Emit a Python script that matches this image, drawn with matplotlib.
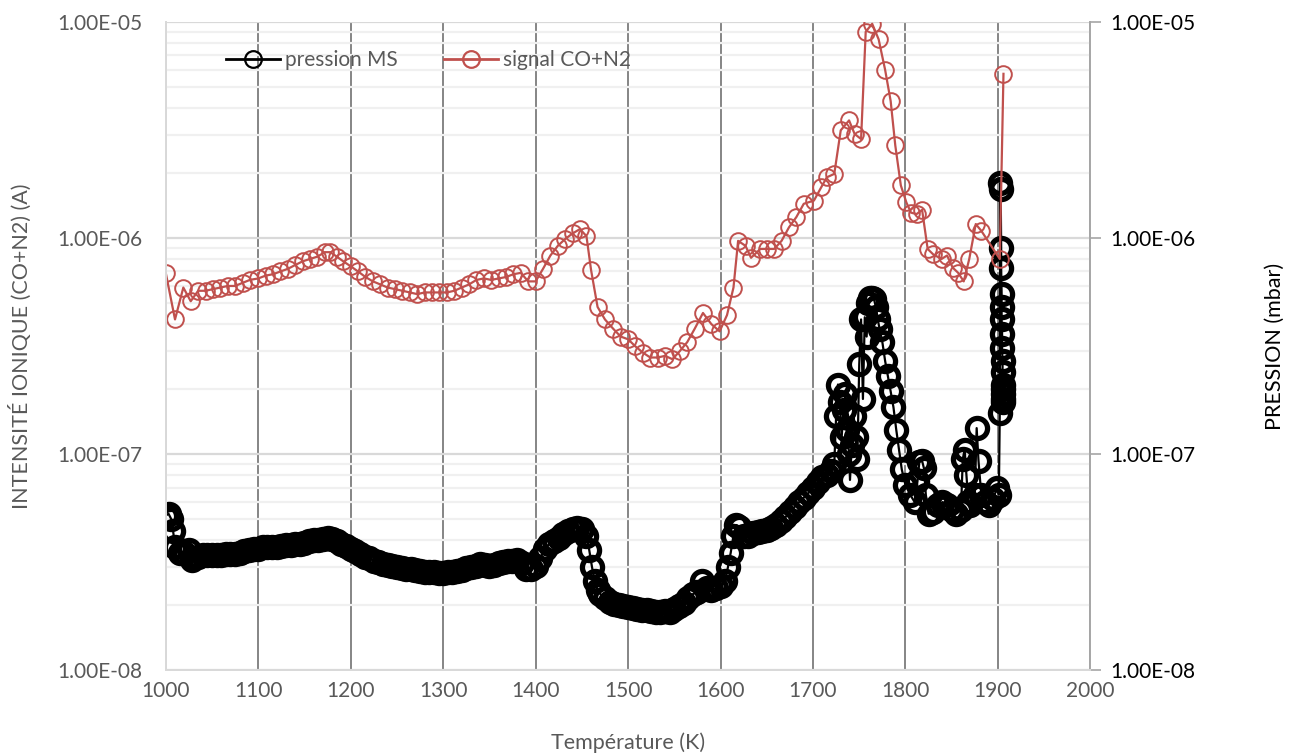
import matplotlib
matplotlib.use("Agg")
import matplotlib.pyplot as plt
from matplotlib.ticker import LogLocator, NullFormatter, FixedLocator

plt.rcParams['font.family'] = ['Lato', 'DejaVu Sans']

# signal CO+N2 (A), red series
temp_signal = [
    1000, 1010, 1019, 1027, 1035, 1043, 1051, 1059, 1067, 1075, 1083, 1091,
    1100, 1108, 1116, 1124, 1132, 1140, 1148, 1156, 1164, 1172, 1178, 1185,
    1192, 1200, 1208, 1216, 1224, 1232, 1240, 1248, 1256, 1264, 1272, 1280,
    1288, 1296, 1304, 1312, 1320, 1328, 1336, 1344, 1352, 1360, 1368, 1376,
    1384, 1392, 1400, 1408, 1416, 1424, 1432, 1440, 1448, 1455, 1460, 1467,
    1475, 1484, 1492, 1500, 1508, 1516, 1524, 1532, 1540, 1548, 1556, 1564,
    1572, 1581, 1590, 1599, 1607, 1614, 1619, 1627, 1633, 1643, 1650, 1658,
    1666, 1674, 1682, 1690, 1701, 1709, 1715, 1723, 1730, 1739, 1745, 1752,
    1757, 1764, 1771, 1778, 1784, 1789, 1795, 1801, 1806, 1812, 1818, 1824,
    1830, 1839, 1845, 1851, 1857, 1863, 1869, 1876, 1882, 1902, 1906,
]
signal = [
    6.9e-7, 4.2e-7, 5.9e-7, 5.1e-7, 5.7e-7, 5.7e-7, 5.8e-7, 5.9e-7, 6.0e-7, 6.0e-7, 6.2e-7, 6.4e-7,
    6.5e-7, 6.7e-7, 6.8e-7, 7.0e-7, 7.2e-7, 7.5e-7, 7.8e-7, 8.0e-7, 8.2e-7, 8.6e-7, 8.6e-7, 8.2e-7,
    7.8e-7, 7.4e-7, 7.0e-7, 6.6e-7, 6.3e-7, 6.1e-7, 5.9e-7, 5.8e-7, 5.7e-7, 5.6e-7, 5.5e-7, 5.6e-7,
    5.6e-7, 5.6e-7, 5.6e-7, 5.7e-7, 5.9e-7, 6.1e-7, 6.4e-7, 6.5e-7, 6.4e-7, 6.5e-7, 6.6e-7, 6.8e-7,
    6.9e-7, 6.3e-7, 6.3e-7, 7.2e-7, 8.3e-7, 9.2e-7, 9.9e-7, 1.05e-6, 1.1e-6, 1.02e-6, 7.1e-7, 4.8e-7,
    4.2e-7, 3.8e-7, 3.5e-7, 3.4e-7, 3.15e-7, 2.95e-7, 2.8e-7, 2.8e-7, 2.85e-7, 2.75e-7, 3.0e-7, 3.3e-7,
    3.8e-7, 4.5e-7, 4.0e-7, 3.7e-7, 4.4e-7, 5.9e-7, 9.7e-7, 9.2e-7, 8.1e-7, 8.9e-7, 8.9e-7, 8.9e-7,
    9.7e-7, 1.12e-6, 1.25e-6, 1.44e-6, 1.49e-6, 1.72e-6, 1.91e-6, 1.98e-6, 3.15e-6, 3.5e-6, 3.03e-6, 2.87e-6,
    9.0e-6, 9.8e-6, 8.3e-6, 6.0e-6, 4.3e-6, 2.68e-6, 1.75e-6, 1.46e-6, 1.31e-6, 1.29e-6, 1.35e-6, 8.9e-7,
    8.4e-7, 8.0e-7, 8.3e-7, 7.3e-7, 6.9e-7, 6.3e-7, 8.0e-7, 1.16e-6, 1.08e-6, 8.0e-7, 5.75e-6,
]

# pression MS (mbar), black series
temp_pression = [
    1000, 1003, 1006, 1008, 1010, 1015, 1020, 1025, 1028, 1030, 1035, 1040,
    1045, 1050, 1055, 1060, 1065, 1070, 1075, 1080, 1085, 1090, 1095, 1100,
    1105, 1110, 1115, 1120, 1125, 1130, 1135, 1140, 1145, 1150, 1155, 1160,
    1165, 1170, 1175, 1180, 1185, 1190, 1195, 1200, 1205, 1210, 1215, 1220,
    1225, 1230, 1235, 1240, 1245, 1250, 1255, 1260, 1265, 1270, 1275, 1280,
    1285, 1290, 1295, 1300, 1305, 1310, 1315, 1320, 1325, 1330, 1335, 1340,
    1345, 1350, 1355, 1360, 1365, 1370, 1375, 1380, 1385, 1390, 1395, 1400,
    1405, 1410, 1415, 1420, 1425, 1430, 1435, 1440, 1445, 1450, 1455, 1458,
    1461, 1464, 1467, 1470, 1475, 1480, 1485, 1490, 1495, 1500, 1505, 1510,
    1515, 1520, 1525, 1530, 1535, 1540, 1545, 1550, 1555, 1560, 1565, 1570,
    1575, 1580, 1585, 1590, 1595, 1600, 1605, 1608, 1611, 1614, 1617, 1620,
    1625, 1630, 1635, 1640, 1645, 1650, 1655, 1660, 1665, 1670, 1675, 1680,
    1685, 1690, 1695, 1700, 1705, 1710, 1715, 1720, 1723, 1725, 1727, 1729,
    1731, 1733, 1735, 1737, 1739, 1740, 1742, 1744, 1746, 1748, 1750, 1752,
    1754, 1756, 1758, 1760, 1762, 1764, 1766, 1768, 1770, 1772, 1775, 1778,
    1781, 1784, 1787, 1790, 1793, 1796, 1800, 1805, 1810, 1813, 1815, 1818,
    1820, 1822, 1825, 1830, 1835, 1840, 1845, 1850, 1855, 1860, 1862, 1864,
    1866, 1868, 1870, 1875, 1877, 1879, 1882, 1886, 1890, 1895, 1899, 1901,
    1902, 1902.5, 1903, 1903.5, 1903.5, 1904, 1904, 1904, 1904.5, 1904.5, 1905, 1905,
    1905, 1905.5, 1905.5, 1906, 1906,
]
pression = [
    5.2e-8, 5.3e-8, 5.0e-8, 4.4e-8, 3.7e-8, 3.5e-8, 3.5e-8, 3.6e-8, 3.25e-8, 3.3e-8, 3.35e-8, 3.4e-8,
    3.4e-8, 3.4e-8, 3.4e-8, 3.42e-8, 3.45e-8, 3.45e-8, 3.45e-8, 3.5e-8, 3.55e-8, 3.6e-8, 3.65e-8, 3.65e-8,
    3.7e-8, 3.7e-8, 3.7e-8, 3.72e-8, 3.75e-8, 3.78e-8, 3.8e-8, 3.82e-8, 3.85e-8, 3.9e-8, 3.95e-8, 4.0e-8,
    4.02e-8, 4.05e-8, 4.1e-8, 4.05e-8, 3.95e-8, 3.85e-8, 3.75e-8, 3.65e-8, 3.55e-8, 3.45e-8, 3.35e-8, 3.3e-8,
    3.22e-8, 3.16e-8, 3.1e-8, 3.07e-8, 3.03e-8, 3.0e-8, 2.97e-8, 2.95e-8, 2.93e-8, 2.9e-8, 2.88e-8, 2.86e-8,
    2.85e-8, 2.84e-8, 2.83e-8, 2.83e-8, 2.84e-8, 2.86e-8, 2.88e-8, 2.92e-8, 2.96e-8, 3.0e-8, 3.05e-8, 3.1e-8,
    3.08e-8, 3.03e-8, 3.08e-8, 3.15e-8, 3.18e-8, 3.2e-8, 3.22e-8, 3.25e-8, 3.15e-8, 2.95e-8, 2.95e-8, 3.05e-8,
    3.3e-8, 3.65e-8, 3.85e-8, 3.95e-8, 4.1e-8, 4.25e-8, 4.4e-8, 4.5e-8, 4.55e-8, 4.5e-8, 4.2e-8, 3.6e-8,
    3.0e-8, 2.6e-8, 2.35e-8, 2.25e-8, 2.15e-8, 2.07e-8, 2.03e-8, 2.0e-8, 1.98e-8, 1.97e-8, 1.95e-8, 1.93e-8,
    1.91e-8, 1.9e-8, 1.88e-8, 1.87e-8, 1.87e-8, 1.88e-8, 1.87e-8, 1.92e-8, 1.98e-8, 2.05e-8, 2.15e-8, 2.25e-8,
    2.3e-8, 2.6e-8, 2.4e-8, 2.35e-8, 2.4e-8, 2.45e-8, 2.6e-8, 3.0e-8, 3.5e-8, 4.2e-8, 4.7e-8, 4.6e-8,
    4.2e-8, 4.2e-8, 4.3e-8, 4.35e-8, 4.4e-8, 4.45e-8, 4.55e-8, 4.7e-8, 4.9e-8, 5.1e-8, 5.4e-8, 5.7e-8,
    6.0e-8, 6.3e-8, 6.6e-8, 7.0e-8, 7.4e-8, 7.8e-8, 8.0e-8, 8.4e-8, 9.0e-8, 1.5e-7, 2.1e-7, 1.75e-7,
    1.2e-7, 1.6e-7, 1.9e-7, 1.3e-7, 1.0e-7, 7.6e-8, 1.1e-7, 1.5e-7, 1.2e-7, 9.5e-8, 2.6e-7, 4.2e-7,
    1.8e-7, 4.3e-7, 3.5e-7, 5.0e-7, 5.3e-7, 5.3e-7, 5.2e-7, 4.8e-7, 4.2e-7, 3.8e-7, 3.3e-7, 2.7e-7,
    2.3e-7, 1.95e-7, 1.65e-7, 1.3e-7, 1.05e-7, 8.5e-8, 7.2e-8, 6.5e-8, 6.0e-8, 7.5e-8, 9.2e-8, 9.3e-8,
    8.6e-8, 6.5e-8, 5.3e-8, 5.4e-8, 5.8e-8, 6.0e-8, 5.8e-8, 5.5e-8, 5.3e-8, 5.5e-8, 9.5e-8, 1.05e-7,
    8.0e-8, 6.0e-8, 5.8e-8, 6.5e-8, 1.32e-7, 9.3e-8, 6.5e-8, 6.0e-8, 5.8e-8, 6.2e-8, 7.0e-8, 6.5e-8,
    1.55e-7, 1.8e-6, 1.68e-6, 9.0e-7, 7.3e-7, 5.5e-7, 4.8e-7, 4.2e-7, 3.6e-7, 3.1e-7, 2.7e-7, 2.4e-7,
    2.1e-7, 1.9e-7, 1.75e-7, 1.8e-7, 2.0e-7,
]

ylim = (1e-8, 1e-5)
xticks = list(range(1000, 2001, 100))
yticks = [1e-8, 1e-7, 1e-6, 1e-5]
ytick_labels = ['1.00E-08', '1.00E-07', '1.00E-06', '1.00E-05']

text_color = '#595959'
red = '#c0504d'

fig = plt.figure(figsize=(12.95, 7.54), dpi=100)
ax = fig.add_axes([0.128, 0.111, 0.714, 0.86])
ax2 = ax.twinx()

ax.plot(temp_pression, pression, color='black', lw=1.6, marker='o', ms=14.5,
        mfc='none', mec='black', mew=3.8, label='pression MS', zorder=3)
ax.plot(temp_signal, signal, color=red, lw=1.6, marker='o', ms=12,
        mfc='none', mec=red, mew=1.4, label='signal CO+N2', zorder=4)

for a in (ax, ax2):
    a.set_yscale('log')
    a.set_ylim(*ylim)
    a.yaxis.set_major_locator(FixedLocator(yticks))
    a.set_yticklabels(ytick_labels)
    a.yaxis.set_minor_formatter(NullFormatter())
    a.tick_params(axis='y', which='minor', length=0)
    a.tick_params(axis='y', labelsize=15, labelcolor=text_color)

ax.set_xlim(1000, 2000)
ax.set_xticks(xticks)
ax.tick_params(axis='x', length=0, labelsize=15, labelcolor=text_color, pad=8)
ax.tick_params(axis='y', which='major', length=0, pad=17)
ax2.tick_params(axis='y', which='major', length=8, width=1.2, color='#a6a6a6',
                labelcolor='black', labelsize=15, pad=6)

ax.yaxis.set_minor_locator(LogLocator(base=10, subs=range(2, 10)))
ax.grid(True, axis='y', which='minor', color='#f0f0f0', lw=1.6)
ax.grid(True, axis='y', which='major', color='#d9d9d9', lw=1.6)
ax.grid(True, axis='x', which='major', color='#858585', lw=1.4)
ax.set_axisbelow(True)

for a in (ax, ax2):
    a.spines['top'].set_visible(False)
    a.spines['left'].set_color('#d9d9d9')
    a.spines['bottom'].set_color('#d9d9d9')
    a.spines['left'].set_linewidth(1.4)
    a.spines['bottom'].set_linewidth(1.4)
ax2.spines['right'].set_color('#a6a6a6')
ax2.spines['right'].set_linewidth(1.4)
ax.spines['right'].set_visible(False)

ax.set_xlabel('Température (K)', fontsize=15.5, color=text_color, labelpad=22)
ax.set_ylabel('INTENSITÉ IONIQUE (CO+N2) (A)', fontsize=15.5, color=text_color, labelpad=18)
ax2.set_ylabel('PRESSION (mbar)', fontsize=15.5, color='black', labelpad=50)

leg = ax.legend(loc='upper left', bbox_to_anchor=(0.045, 0.985), ncol=2,
                frameon=False, fontsize=15, handlelength=2.6, columnspacing=2.2,
                handletextpad=0.25)
for t in leg.get_texts():
    t.set_color(text_color)
# legend markers are drawn thin, as in the original
for h in leg.legend_handles:
    h.set_markersize(12)
    h.set_markeredgewidth(1.6)
    h.set_linewidth(2)

fig.savefig('out.png', dpi=100)
